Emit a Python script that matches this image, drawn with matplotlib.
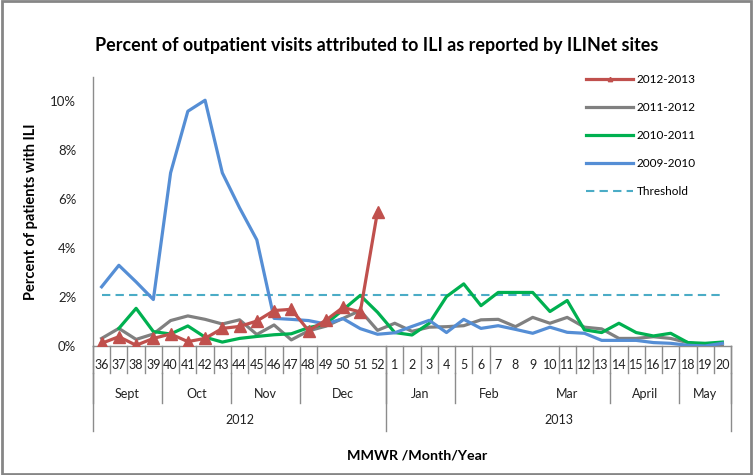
import matplotlib
matplotlib.use("Agg")
import matplotlib.pyplot as plt
from matplotlib.patches import Rectangle
from matplotlib.ticker import FuncFormatter

plt.rcParams["font.family"] = ["Lato", "DejaVu Sans"]

# ── data ─────────────────────────────────────────────────────────────────────
weeks = list(range(36, 53)) + list(range(1, 21))

s2012 = [0.11, 0.38, 0.03, 0.31, 0.49, 0.18, 0.31, 0.72, 0.80, 1.02, 1.45, 1.50,
         0.63, 1.05, 1.58, 1.39, 5.50]
s2011 = [0.31, 0.72, 0.27, 0.49, 1.04, 1.23, 1.09, 0.90, 1.07, 0.47, 0.86, 0.25,
         0.62, 0.81, 1.13, 1.45, 0.64, 0.93, 0.60, 0.77, 0.79, 0.83, 1.07, 1.09,
         0.79, 1.17, 0.93, 1.17, 0.77, 0.70, 0.31, 0.31, 0.38, 0.31, 0.14, 0.04, 0.00]
s2010 = [None, 0.72, 1.54, 0.59, 0.49, 0.82, 0.36, 0.16, 0.31, 0.39, 0.46, 0.50,
         0.75, 0.90, 1.48, 2.07, 1.38, 0.55, 0.45, 0.93, 2.02, 2.54, 1.65, 2.19,
         2.19, 2.19, 1.41, 1.86, 0.66, 0.55, 0.93, 0.55, 0.41, 0.52, 0.14, 0.11, 0.16]
s2009 = [2.42, 3.30, 2.62, 1.90, 7.08, 9.60, 10.05, 7.08, 5.65, 4.34, 1.13, 1.09,
         1.04, 0.90, 1.12, 0.71, 0.48, 0.54, 0.80, 1.05, 0.55, 1.09, 0.72, 0.83,
         0.68, 0.52, 0.77, 0.56, 0.52, 0.23, 0.23, 0.23, 0.14, 0.11, 0.03, 0.00, 0.11]
threshold = 2.1

months = ["Sept", "Oct", "Nov", "Dec", "Jan", "Feb", "Mar", "April", "May"]
month_len = [4, 4, 4, 5, 4, 4, 5, 4, 3]
years = ["2012", "2013"]
year_len = [17, 20]

# ── figure ───────────────────────────────────────────────────────────────────
W, H = 753, 475
fig = plt.figure(figsize=(W / 100, H / 100), dpi=100)
ax = fig.add_axes([93 / W, 1 - 346 / H, (731 - 93) / W, (346 - 77) / H])

x = list(range(len(weeks)))
ax.plot(x[:len(s2011)], s2011, color="#808080", lw=2.3, label="2011-2012", zorder=3)
x10 = [i for i, v in zip(x, s2010) if v is not None]
ax.plot(x10, [v for v in s2010 if v is not None], color="#00B050", lw=2.3,
        label="2010-2011", zorder=3)
ax.plot(x, s2009, color="#558ED5", lw=2.3, label="2009-2010", zorder=3)
ax.plot(x, [threshold] * len(x), color="#4BACC6", lw=1.5, ls=(0, (4, 2.5)),
        label="Threshold", zorder=2)
ax.plot(x[:len(s2012)], s2012, color="#C0504D", lw=2.3, marker="^", ms=9,
        label="2012-2013", zorder=4)

ax.set_xlim(-0.5, len(weeks) - 0.5)
ax.set_ylim(0, 11)
ax.set_yticks([0, 2, 4, 6, 8, 10])
ax.yaxis.set_major_formatter(FuncFormatter(lambda v, p: f"{v:.0f}%"))
ax.tick_params(axis="y", length=0, pad=12, labelsize=9.5, colors="#222222")
ax.set_xticks([])
for s in ["top", "right"]:
    ax.spines[s].set_visible(False)
for s in ["left", "bottom"]:
    ax.spines[s].set_color("#8c8c8c")
    ax.spines[s].set_linewidth(1)

ax.set_ylabel("Percent of patients with ILI", fontsize=10.5, fontweight="bold")
ax.yaxis.set_label_coords((38 - 93) / 638, 0.5)

# ── multi-level category axis ────────────────────────────────────────────────
tr = ax.get_xaxis_transform()
ah = 346 - 77
def ay(px):
    return -(px - 346) / ah

lc = "#8c8c8c"
missing = {14, 15, 16, 24, 25, 26}
for k in range(len(weeks) + 1):
    if k in missing:
        continue
    ax.plot([k - 0.5, k - 0.5], [0, ay(373)], color=lc, lw=1, transform=tr,
            clip_on=False)
for i, w in enumerate(weeks):
    ax.text(i, ay(365), str(w), transform=tr, ha="center", va="center",
            fontsize=9, color="#222222")

pos = 0
bounds = [0]
for name, n in zip(months, month_len):
    ax.text(pos + (n - 1) / 2, ay(393.5), name, transform=tr, ha="center",
            va="center", fontsize=9, color="#222222")
    pos += n
    bounds.append(pos)
for k in bounds:
    if k == 25:  # no divider between Feb and Mar
        continue
    ax.plot([k - 0.5, k - 0.5], [ay(373), ay(403)], color=lc, lw=1,
            transform=tr, clip_on=False)

pos = 0
ybounds = [0]
for name, n in zip(years, year_len):
    ax.text(pos + (n - 1) / 2, ay(420), name, transform=tr, ha="center",
            va="center", fontsize=9, color="#222222")
    pos += n
    ybounds.append(pos)
for k in ybounds:
    ax.plot([k - 0.5, k - 0.5], [0, ay(431)], color=lc, lw=1, transform=tr,
            clip_on=False)

fig.text(417 / W, 1 - 455 / H, "MMWR /Month/Year", ha="center", va="center",
         fontsize=10.3, fontweight="bold")
fig.text(377 / W, 1 - 45 / H,
         "Percent of outpatient visits attributed to ILI as reported by ILINet sites",
         ha="center", va="center", fontsize=12.9, fontweight="bold")

# legend
h, l = ax.get_legend_handles_labels()
order = ["2012-2013", "2011-2012", "2010-2011", "2009-2010", "Threshold"]
hd = dict(zip(l, h))
leg = fig.legend([hd[o] for o in order], order, loc="upper left",
                 bbox_to_anchor=(586 / W, 1 - 74 / H), frameon=False,
                 fontsize=8.5, handlelength=4.0, handletextpad=0.3,
                 labelspacing=1.45, borderpad=0, borderaxespad=0, markerscale=0.35)

fig.patches.append(Rectangle((0.002, 0.003), 0.995, 0.994, transform=fig.transFigure,
                             fill=False, edgecolor="#868686", lw=2))

fig.savefig("out.png", dpi=100)
